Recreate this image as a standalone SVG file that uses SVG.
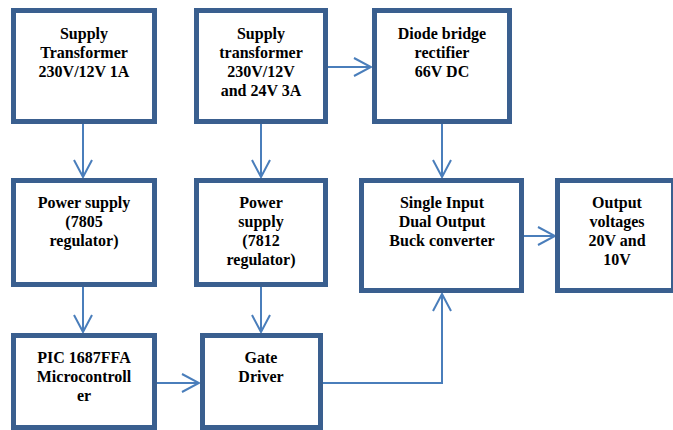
<svg xmlns="http://www.w3.org/2000/svg" width="673" height="430" viewBox="0 0 673 430">
<defs>
<style>
.box{fill:#fff;stroke:#3a5f8f;stroke-width:5}
.lbl{font-family:"Liberation Serif","Times New Roman",serif;font-weight:bold;font-size:16px;fill:#000;text-anchor:middle}
.con{fill:none;stroke:#4a7ebb;stroke-width:2}
</style>
<marker id="arr" viewBox="0 0 20 20" refX="18" refY="10" markerWidth="20" markerHeight="20" markerUnits="userSpaceOnUse" orient="auto">
<path d="M1,1 L18,10 L1,19" fill="none" stroke="#4a7ebb" stroke-width="2"/>
</marker>
</defs>
<rect width="673" height="430" fill="#fff"/>
<g id="connectors">
<line class="con" x1="83" y1="124" x2="83" y2="177" marker-end="url(#arr)"/>
<line class="con" x1="261" y1="124" x2="261" y2="177" marker-end="url(#arr)"/>
<line class="con" x1="328" y1="67" x2="371" y2="67" marker-end="url(#arr)"/>
<line class="con" x1="442" y1="124" x2="442" y2="177" marker-end="url(#arr)"/>
<line class="con" x1="83" y1="287" x2="83" y2="332" marker-end="url(#arr)"/>
<line class="con" x1="261" y1="287" x2="261" y2="332" marker-end="url(#arr)"/>
<line class="con" x1="157" y1="383" x2="199" y2="383" marker-end="url(#arr)"/>
<polyline class="con" points="323,383 442,383 442,294" marker-end="url(#arr)"/>
<line class="con" x1="524" y1="236" x2="555" y2="236" marker-end="url(#arr)"/>
</g>
<g id="transformer1">
<rect class="box" x="13.5" y="10.5" width="141" height="111"/>
<text class="lbl" x="84" y="39">Supply</text>
<text class="lbl" x="84" y="58">Transformer</text>
<text class="lbl" x="84" y="77">230V/12V 1A</text>
</g>
<g id="transformer2">
<rect class="box" x="196.5" y="10.5" width="129" height="111"/>
<text class="lbl" x="261" y="39">Supply</text>
<text class="lbl" x="261" y="58">transformer</text>
<text class="lbl" x="261" y="77">230V/12V</text>
<text class="lbl" x="261" y="96">and 24V 3A</text>
</g>
<g id="rectifier">
<rect class="box" x="374.5" y="10.5" width="135" height="111"/>
<text class="lbl" x="442" y="39">Diode bridge</text>
<text class="lbl" x="442" y="58">rectifier</text>
<text class="lbl" x="442" y="77">66V DC</text>
</g>
<g id="ps7805">
<rect class="box" x="13.5" y="180.5" width="141" height="104"/>
<text class="lbl" x="84" y="208">Power supply</text>
<text class="lbl" x="84" y="227">(7805</text>
<text class="lbl" x="84" y="246">regulator)</text>
</g>
<g id="ps7812">
<rect class="box" x="196.5" y="180.5" width="129" height="104"/>
<text class="lbl" x="261" y="208">Power</text>
<text class="lbl" x="261" y="227">supply</text>
<text class="lbl" x="261" y="246">(7812</text>
<text class="lbl" x="261" y="265">regulator)</text>
</g>
<g id="buck">
<rect class="box" x="361.5" y="180.5" width="160" height="110"/>
<text class="lbl" x="442" y="208">Single Input</text>
<text class="lbl" x="442" y="227">Dual Output</text>
<text class="lbl" x="442" y="246">Buck converter</text>
</g>
<g id="output">
<rect class="box" x="557.5" y="180.5" width="116" height="110"/>
<text class="lbl" x="617" y="208">Output</text>
<text class="lbl" x="617" y="227">voltages</text>
<text class="lbl" x="617" y="246">20V and</text>
<text class="lbl" x="617" y="265">10V</text>
</g>
<g id="pic">
<rect class="box" x="13.5" y="335.5" width="141" height="92"/>
<text class="lbl" x="84" y="363">PIC 1687FFA</text>
<text class="lbl" x="84" y="382">Microcontroll</text>
<text class="lbl" x="84" y="401">er</text>
</g>
<g id="gatedriver">
<rect class="box" x="202.5" y="335.5" width="118" height="92"/>
<text class="lbl" x="261" y="363">Gate</text>
<text class="lbl" x="261" y="382">Driver</text>
</g>
</svg>
